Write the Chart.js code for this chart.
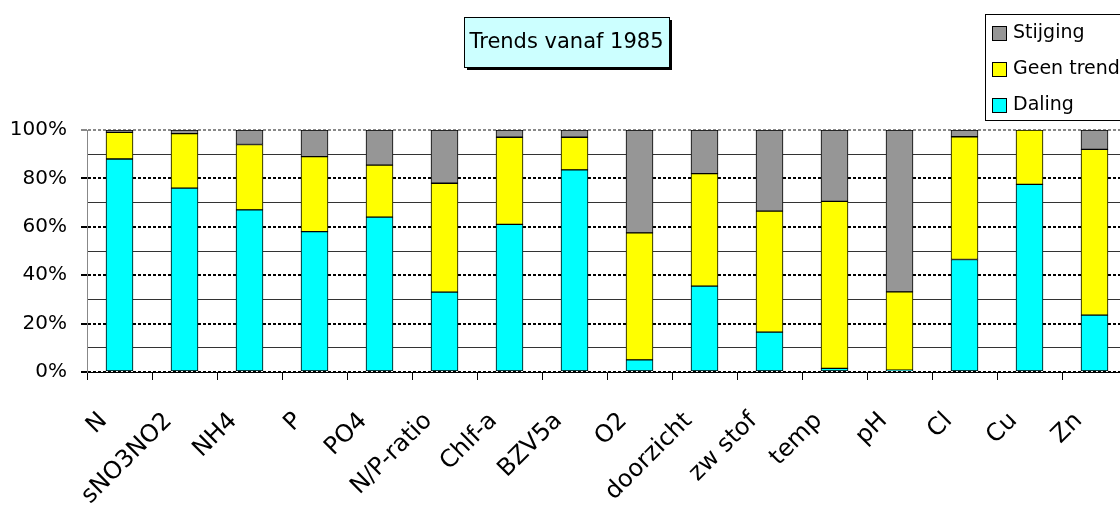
<!DOCTYPE html>
<html>
<head>
<meta charset="utf-8">
<script src="https://cdn.jsdelivr.net/npm/chart.js@4"></script>
<style>
  html, body { margin: 0; padding: 0; overflow: hidden; background: #fff; }
  #wrap { width: 1132px; height: 506px; position: relative; }
</style>
</head>
<body>
<div id="wrap"><canvas id="trends"></canvas></div>
<script>
(function() {

  const categories = ['N', 'sNO3NO2', 'NH4', 'P', 'PO4', 'N/P-ratio', 'Chlf-a', 'BZV5a',
    'O2', 'doorzicht', 'zw stof', 'temp', 'pH', 'Cl', 'Cu', 'Zn'];
  const daling    = [88, 76, 67, 58, 64, 33, 61, 83.5, 5, 35.5, 16.5, 1.5, 0.8, 46.5, 77.5, 23.5];
  const geenTrend = [11, 22.5, 27, 31, 21.5, 45, 36, 13.5, 52.5, 46.5, 50, 69, 32.3, 50.7, 22.5, 68.5];
  const stijging  = [1, 1.5, 6, 11, 14.5, 22, 3, 3, 42.5, 18, 33.5, 29.5, 66.9, 2.8, 0, 8];
  const titleText = 'Trends vanaf 1985';

  const FONT = 'DejaVu Sans';

  // title box with a shadow, top centre
  const titleBox = {
    id: 'titleBox',
    afterDraw(chart) {
      const ctx = chart.ctx;
      const x = 464, y = 17, w = 205, h = 50;
      ctx.save();
      ctx.fillStyle = '#000';
      ctx.fillRect(x + 3, y + 3, w, h);
      ctx.fillStyle = '#CCFFFF';
      ctx.fillRect(x, y, w, h);
      ctx.strokeStyle = '#000';
      ctx.lineWidth = 1;
      ctx.strokeRect(x + 0.5, y + 0.5, w, h);
      ctx.fillStyle = '#000';
      ctx.font = '21px "' + FONT + '"';
      ctx.textAlign = 'center';
      ctx.textBaseline = 'middle';
      ctx.fillText(titleText, x + w / 2, y + h / 2 + 1);
      ctx.restore();
    }
  };

  // legend box in the top right corner, last series on top
  const boxLegend = {
    id: 'boxLegend',
    afterDraw(chart) {
      const ctx = chart.ctx;
      const sets = chart.data.datasets.slice().reverse();
      ctx.save();
      ctx.fillStyle = '#fff';
      ctx.fillRect(985, 14, 160, 106);
      ctx.strokeStyle = '#000';
      ctx.lineWidth = 1;
      ctx.strokeRect(985.5, 14.5, 160, 106);
      ctx.font = '19px "' + FONT + '"';
      ctx.textBaseline = 'middle';
      sets.forEach((ds, i) => {
        const cy = 33 + i * 36;
        ctx.fillStyle = ds.backgroundColor;
        ctx.fillRect(992, cy - 7, 14, 14);
        ctx.strokeRect(992.5, cy - 6.5, 14, 14);
        ctx.fillStyle = '#000';
        ctx.fillText(ds.label, 1013, cy);
      });
      ctx.restore();
    }
  };

  const common = {
    borderColor: '#000', borderWidth: 1, borderSkipped: false,
    barThickness: 27
  };

  new Chart(document.getElementById('trends').getContext('2d'), {
    type: 'bar',
    data: {
      labels: categories,
      datasets: [
        { ...common, label: 'Daling', data: daling, backgroundColor: '#00FFFF' },
        { ...common, label: 'Geen trend', data: geenTrend, backgroundColor: '#FFFF00' },
        { ...common, label: 'Stijging', data: stijging, backgroundColor: '#969696' }
      ]
    },
    options: {
      responsive: true,
      maintainAspectRatio: false,
      animation: false,
      layout: { padding: { top: 130, right: 5, left: 0, bottom: 0 } },
      plugins: { legend: { display: false }, tooltip: { enabled: false } },
      scales: {
        x: {
          stacked: true,
          grid: { offset: true, drawOnChartArea: false, drawTicks: true, tickLength: 8, color: '#000' },
          border: { display: true, color: '#000', width: 1 },
          ticks: {
            autoSkip: false, minRotation: 45, maxRotation: 45, padding: 27, labelOffset: -16,
            color: '#000', font: { family: FONT, size: 24 }
          },
          afterFit: s => { s.height = 134; s.paddingLeft = 0; s.paddingRight = 0; }
        },
        y: {
          stacked: true, min: 0, max: 100,
          ticks: {
            stepSize: 20, padding: 14, color: '#000', font: { family: FONT, size: 20 },
            callback: v => v + '%'
          },
          grid: {
            color: c => (c.tick && c.tick.value === 100 ? '#888' : '#000'),
            lineWidth: 2, tickLength: 6
          },
          border: { display: true, color: '#888', dash: [3, 2] },
          afterFit: s => { s.width = 87; s.paddingTop = 0; s.paddingBottom = 0; }
        },
        y10: {
          position: 'left', min: 0, max: 100,
          ticks: { stepSize: 10, display: false },
          grid: {
            color: c => (c.tick && c.tick.value % 20 ? '#333' : 'rgba(0,0,0,0)'),
            lineWidth: 1, drawTicks: false
          },
          border: { display: false },
          afterFit: s => { s.width = 0; }
        }
      }
    },
    plugins: [titleBox, boxLegend]
  });
})();
</script>
</body>
</html>
